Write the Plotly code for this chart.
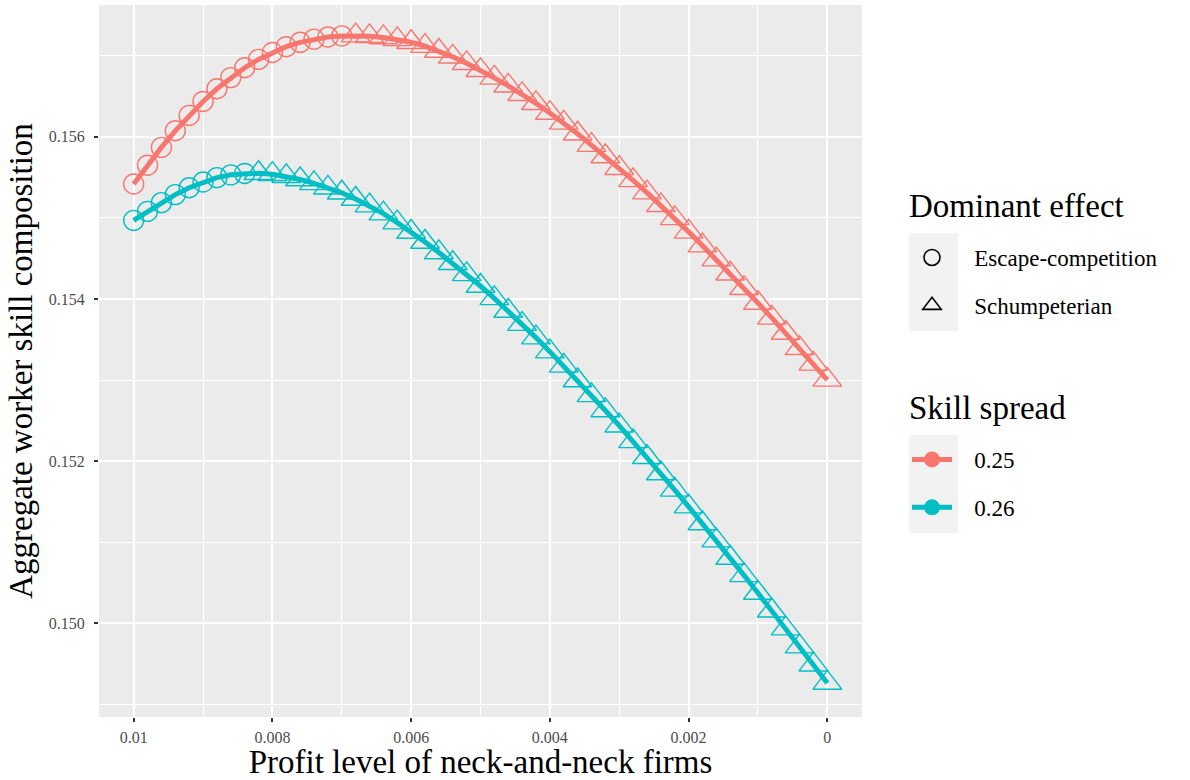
import plotly.graph_objects as go

# ---- data ----
profit = [0.0100, 0.0098, 0.0096, 0.0094, 0.0092, 0.0090, 0.0088, 0.0086, 0.0084, 0.0082,
          0.0080, 0.0078, 0.0076, 0.0074, 0.0072, 0.0070, 0.0068, 0.0066, 0.0064, 0.0062,
          0.0060, 0.0058, 0.0056, 0.0054, 0.0052, 0.0050, 0.0048, 0.0046, 0.0044, 0.0042,
          0.0040, 0.0038, 0.0036, 0.0034, 0.0032, 0.0030, 0.0028, 0.0026, 0.0024, 0.0022,
          0.0020, 0.0018, 0.0016, 0.0014, 0.0012, 0.0010, 0.0008, 0.0006, 0.0004, 0.0002,
          0.0000]

skill_025 = [0.155417, 0.155649, 0.155868, 0.156073, 0.156263, 0.156435, 0.156591, 0.156729,
             0.156850, 0.156953, 0.157039, 0.157110, 0.157164, 0.157203, 0.157229, 0.157243,
             0.157247, 0.157238, 0.157224, 0.157200, 0.157165, 0.157117, 0.157057, 0.156985,
             0.156905, 0.156819, 0.156726, 0.156628, 0.156523, 0.156412, 0.156292, 0.156170,
             0.156037, 0.155896, 0.155756, 0.155612, 0.155462, 0.155311, 0.155154, 0.154993,
             0.154827, 0.154657, 0.154485, 0.154310, 0.154131, 0.153949, 0.153766, 0.153580,
             0.153391, 0.153199, 0.153002]

skill_026 = [0.154969, 0.155080, 0.155187, 0.155286, 0.155371, 0.155441, 0.155496, 0.155530,
             0.155547, 0.155550, 0.155538, 0.155512, 0.155473, 0.155425, 0.155370, 0.155309,
             0.155232, 0.155150, 0.155052, 0.154941, 0.154825, 0.154702, 0.154573, 0.154440,
             0.154302, 0.154159, 0.154007, 0.153851, 0.153689, 0.153523, 0.153350, 0.153174,
             0.152994, 0.152811, 0.152625, 0.152437, 0.152244, 0.152048, 0.151848, 0.151645,
             0.151439, 0.151231, 0.151020, 0.150806, 0.150591, 0.150374, 0.150155, 0.149935,
             0.149713, 0.149490, 0.149265]

ESC = "Escape-competition"
SCH = "Schumpeterian"
effect_025 = [ESC] * 16 + [SCH] * 35
effect_026 = [ESC] * 9 + [SCH] * 42

spreads = ["0.25", "0.26"]
series = {"0.25": (skill_025, effect_025), "0.26": (skill_026, effect_026)}
colors = {"0.25": "#F8766D", "0.26": "#00BFC4"}
symbols = {ESC: "circle-open", SCH: "triangle-up-open"}
msize = {ESC: 20, SCH: 25}

x_ticks = [0.01, 0.008, 0.006, 0.004, 0.002, 0.0]
x_ticktext = ["0.01", "0.008", "0.006", "0.004", "0.002", "0"]
y_ticks = [0.150, 0.152, 0.154, 0.156]
y_ticktext = ["0.150", "0.152", "0.154", "0.156"]

FONT = "Liberation Serif"
PAD = "\u00a0\u00a0\u00a0"  # gap between legend key and label

fig = go.Figure()

# points (drawn first so the lines sit on top, as in ggplot)
for s in spreads:
    yv, eff = series[s]
    for e in (ESC, SCH):
        xs = [x for x, ef in zip(profit, eff) if ef == e]
        ys = [y for y, ef in zip(yv, eff) if ef == e]
        fig.add_trace(go.Scatter(
            x=xs, y=ys, mode="markers", showlegend=False, hoverinfo="skip",
            marker=dict(symbol=symbols[e], size=msize[e], color=colors[s],
                        line=dict(width=1.4, color=colors[s]))))

# lines
for s in spreads:
    yv, _ = series[s]
    fig.add_trace(go.Scatter(
        x=profit, y=yv, mode="lines", showlegend=False,
        line=dict(color=colors[s], width=5)))

# legend entries: Dominant effect
for i, e in enumerate((ESC, SCH)):
    fig.add_trace(go.Scatter(
        x=[None], y=[None], mode="markers", name=PAD + e, legend="legend",
        legendgroup="eff" + str(i),
        marker=dict(symbol=symbols[e], size=msize[e], color="black",
                    line=dict(width=1.6, color="black"))))

# legend entries: Skill spread
for i, s in enumerate(spreads):
    fig.add_trace(go.Scatter(
        x=[None], y=[None], mode="lines+markers", name=PAD + s, legend="legend2",
        legendgroup="sp" + str(i),
        line=dict(color=colors[s], width=5),
        marker=dict(symbol="circle", size=16, color=colors[s])))

W, H = 1190, 780
ml, mr, mt, mb = 99, W - 862, 5, H - 717

def px_x(p):
    return (p - ml) / (W - ml - mr)

def px_y(p):
    return (H - mb - p) / (H - mt - mb)

legend_font = dict(family=FONT, size=23, color="black")
title_font = dict(family=FONT, size=33, color="black")

fig.update_layout(
    width=W, height=H,
    margin=dict(l=ml, r=mr, t=mt, b=mb, autoexpand=False),
    paper_bgcolor="white",
    plot_bgcolor="#EBEBEB",
    font=dict(family=FONT, color="black"),
    xaxis=dict(
        range=[0.0105, -0.0005],
        tickvals=x_ticks, ticktext=x_ticktext,
        ticks="outside", ticklen=4, tickwidth=1.5, tickcolor="#333333",
        tickfont=dict(family=FONT, size=16, color="#4D4D4D"),
        ticklabelstandoff=2,
        showgrid=True, gridcolor="white", gridwidth=2,
        minor=dict(dtick=0.001, showgrid=True, gridcolor="white", gridwidth=1, ticks=""),
        zeroline=False, showline=False, automargin=False,
        title=dict(text="Profit level of neck-and-neck firms", font=title_font, standoff=6),
    ),
    yaxis=dict(
        range=[0.148845, 0.157624],
        tickvals=y_ticks, ticktext=y_ticktext,
        ticks="outside", ticklen=4, tickwidth=1.5, tickcolor="#333333",
        tickfont=dict(family=FONT, size=16, color="#4D4D4D"),
        ticklabelstandoff=6,
        showgrid=True, gridcolor="white", gridwidth=2,
        minor=dict(dtick=0.001, showgrid=True, gridcolor="white", gridwidth=1, ticks=""),
        zeroline=False, showline=False, automargin=False,
        title=dict(text="Aggregate worker skill composition", font=title_font, standoff=6),
    ),
    legend=dict(
        x=px_x(907), y=px_y(236), xanchor="left", yanchor="top",
        bgcolor="rgba(0,0,0,0)", font=legend_font, tracegroupgap=15,
        itemsizing="trace", itemwidth=40,
    ),
    legend2=dict(
        x=px_x(907), y=px_y(438), xanchor="left", yanchor="top",
        bgcolor="rgba(0,0,0,0)", font=legend_font, tracegroupgap=15,
        itemsizing="trace", itemwidth=40,
    ),
    annotations=[
        dict(text="Dominant effect", xref="paper", yref="paper",
             x=px_x(907), y=px_y(206), xanchor="left", yanchor="middle",
             showarrow=False, font=title_font),
        dict(text="Skill spread", xref="paper", yref="paper",
             x=px_x(907), y=px_y(408), xanchor="left", yanchor="middle",
             showarrow=False, font=title_font),
    ],
    shapes=[
        dict(type="rect", xref="paper", yref="paper", layer="below",
             x0=px_x(909), x1=px_x(958), y0=px_y(233), y1=px_y(331),
             fillcolor="#F2F2F2", line=dict(width=0)),
        dict(type="rect", xref="paper", yref="paper", layer="below",
             x0=px_x(909), x1=px_x(958), y0=px_y(435), y1=px_y(533),
             fillcolor="#F2F2F2", line=dict(width=0)),
    ],
)

fig.write_html("out.html", config={"displayModeBar": False},
               post_script="document.body.style.margin='0';")
